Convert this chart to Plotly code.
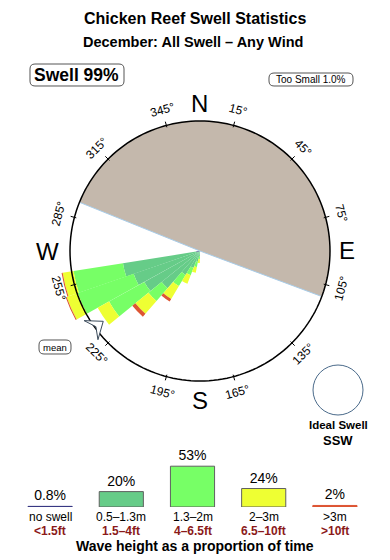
import plotly.graph_objects as go
import math

# ---------------- data ----------------
directions = [256, 246, 236, 226, 216, 206, 196, 186]   # bin centres (deg)
bin_width = 10
no_swell   = [3, 2, 0, 0, 0, 0, 0, 0]
h_05_13    = [57, 52, 49, 38, 21.5, 14, 8.5, 4]
h_13_20    = [38.5, 45.5, 31, 13, 10, 6, 4, 2.3]
h_20_30    = [8.5, 9, 10, 13, 11.5, 7, 4.6, 3]
h_30_plus  = [0.8, 0.8, 0, 3, 2.3, 0, 0, 0]

land_from, land_to = 292, 110.5        # shore sector (clockwise)
mean_dir = 234

legend_pct   = [0.8, 20, 53, 24, 2]
legend_m     = ["no swell", "0.5\u20131.3m", "1.3\u20132m", "2\u20133m", ">3m"]
legend_ft    = ["&lt;1.5ft", "1.5\u20134ft", "4\u20136.5ft", "6.5\u201310ft", ">10ft"]
tick_angles  = [15, 45, 75, 105, 135, 165, 195, 225, 255, 285, 315, 345]
compass      = ["N", "E", "S", "W"]
compass_deg  = [0, 90, 180, 270]

C_NAVY, C_DK, C_GR, C_YE, C_RD = "#333380", "#66CC88", "#77FF66", "#EEFF33", "#DD5533"
C_LAND = "#C4B8AC"
FONT = "Liberation Sans, Arial, Helvetica, sans-serif"

W, H = 390, 560
CX, CY, RPX = 200, 251, 130          # rose centre & circle radius in px
RMAX = 110                           # radial range (circle = 100)

def px(x, y):
    return x / W, 1 - y / H

fig = go.Figure()

# land sector
span = (land_to - land_from) % 360
fig.add_trace(go.Barpolar(r=[100], theta=[(land_from + span / 2) % 360], width=[span],
                          marker=dict(color=C_LAND, line=dict(width=0)),
                          showlegend=False, hoverinfo="skip"))
fig.add_trace(go.Scatterpolar(r=[100, 0, 100], theta=[land_from, 0, land_to], mode="lines",
                              line=dict(color="#A8CCE8", width=1), showlegend=False, hoverinfo="skip"))

# swell wedges (stacked)
for vals, col in [(no_swell, C_NAVY), (h_05_13, C_DK), (h_13_20, C_GR),
                  (h_20_30, C_YE), (h_30_plus, C_RD)]:
    fig.add_trace(go.Barpolar(r=vals, theta=directions, width=[bin_width] * len(directions),
                              marker=dict(color=col, line=dict(width=0)),
                              showlegend=False, hoverinfo="skip"))

# outer circle
circ_t = list(range(0, 361, 2))
fig.add_trace(go.Scatterpolar(r=[100] * len(circ_t), theta=circ_t, mode="lines",
                              line=dict(color="black", width=1.5), showlegend=False, hoverinfo="skip"))
# tick marks
for a in tick_angles:
    fig.add_trace(go.Scatterpolar(r=[98.5, 103], theta=[a, a], mode="lines",
                                  line=dict(color="black", width=1), showlegend=False, hoverinfo="skip"))

# mean arrow
fig.add_trace(go.Scatterpolar(r=[104, 92, 104, 99, 104],
                              theta=[mean_dir + 5, mean_dir, mean_dir - 5, mean_dir, mean_dir + 5],
                              mode="lines", fill="toself", fillcolor="white",
                              line=dict(color="#3A4A5A", width=1), showlegend=False, hoverinfo="skip"))

# ---------------- legend bars ----------------
fig.add_trace(go.Bar(x=list(range(5)), y=legend_pct, width=0.62,
                     marker=dict(color=[C_NAVY, C_DK, C_GR, C_YE, C_RD],
                                 line=dict(color=[C_NAVY, "#606060", "#606060", "#606060", C_RD], width=1)),
                     texttemplate="%{y}%", textposition="outside", cliponaxis=False,
                     textfont=dict(size=14, color="black", family=FONT),
                     xaxis="x", yaxis="y", showlegend=False, hoverinfo="skip"))

ann = []
for i in range(5):
    ann.append(dict(x=i, y=px(0, 517)[1], xref="x", yref="paper", text=legend_m[i], showarrow=False,
                    font=dict(size=12, color="black", family=FONT), xanchor="center", yanchor="middle"))
    ann.append(dict(x=i, y=px(0, 530.5)[1], xref="x", yref="paper", text="<b>" + legend_ft[i] + "</b>",
                    showarrow=False, font=dict(size=12, color="#8B1A1A", family=FONT),
                    xanchor="center", yanchor="middle"))

# tick labels, tangential
for a in tick_angles:
    rr = 146
    x = CX + rr * math.sin(math.radians(a))
    y = CY - rr * math.cos(math.radians(a))
    ang = ((a + 90) % 180) - 90
    xx, yy = px(x, y)
    ann.append(dict(x=xx, y=yy, xref="paper", yref="paper", text=f"{a}\u00b0", showarrow=False,
                    textangle=ang, font=dict(size=12, color="black", family=FONT),
                    xanchor="center", yanchor="middle"))

# compass letters
for lab, a, rr in zip(compass, compass_deg, [148, 147, 149, 153]):
    x = CX + rr * math.sin(math.radians(a))
    y = CY - rr * math.cos(math.radians(a))
    xx, yy = px(x, y)
    ann.append(dict(x=xx, y=yy, xref="paper", yref="paper", text=lab, showarrow=False,
                    font=dict(size=24, color="black", family=FONT),
                    xanchor="center", yanchor="middle"))

def text_at(x, y, t, size, bold=False, color="black"):
    xx, yy = px(x, y)
    ann.append(dict(x=xx, y=yy, xref="paper", yref="paper",
                    text=("<b>%s</b>" % t) if bold else t, showarrow=False,
                    font=dict(size=size, color=color, family=FONT), xanchor="center", yanchor="middle"))

text_at(195, 18, "Chicken Reef Swell Statistics", 16, True)
text_at(193, 42, "December: All Swell \u2013 Any Wind", 14.5, True)
text_at(76, 75, "Swell 99%", 17.5, True)
text_at(311, 80, "Too Small 1.0%", 10)
text_at(55, 347, "mean", 9.5)
text_at(338, 425, "Ideal Swell", 11.5, True)
text_at(338, 440, "SSW", 13, True)
text_at(195, 546, "Wave height as a proportion of time", 14, True)

def rrect(x0, y0, x1, y1, r):
    def p(x, y):
        a, b = px(x, y)
        return f"{a:.5f},{b:.5f}"
    return ("M " + p(x0 + r, y0) + " L " + p(x1 - r, y0) + " Q " + p(x1, y0) + " " + p(x1, y0 + r) +
            " L " + p(x1, y1 - r) + " Q " + p(x1, y1) + " " + p(x1 - r, y1) +
            " L " + p(x0 + r, y1) + " Q " + p(x0, y1) + " " + p(x0, y1 - r) +
            " L " + p(x0, y0 + r) + " Q " + p(x0, y0) + " " + p(x0 + r, y0) + " Z")

shapes = [
    dict(type="path", xref="paper", yref="paper", path=rrect(30, 64, 124, 86, 5),
         line=dict(color="#555555", width=1)),
    dict(type="path", xref="paper", yref="paper", path=rrect(269, 73, 353, 86, 5),
         line=dict(color="#555555", width=1)),
    dict(type="path", xref="paper", yref="paper", path=rrect(39, 340, 71, 354, 5),
         line=dict(color="#555555", width=1)),
    dict(type="circle", xref="paper", yref="paper",
         x0=px(313, 0)[0], x1=px(363, 0)[0], y0=px(0, 415)[1], y1=px(0, 365)[1],
         line=dict(color="#4A6A8A", width=1)),
]

R = RPX * RMAX / 100
fig.update_layout(
    width=W, height=H, margin=dict(l=0, r=0, t=0, b=0),
    paper_bgcolor="white", plot_bgcolor="white",
    font=dict(family=FONT),
    polar=dict(
        domain=dict(x=[(CX - R) / W, (CX + R) / W], y=[1 - (CY + R) / H, 1 - (CY - R) / H]),
        bgcolor="rgba(0,0,0,0)", barmode="stack",
        radialaxis=dict(visible=False, range=[0, RMAX]),
        angularaxis=dict(visible=False, direction="clockwise", rotation=90, showgrid=False,
                         showline=False, ticks=""),
    ),
    xaxis=dict(domain=[14.5 / W, 370.5 / W], range=[-0.5, 4.5], visible=False, fixedrange=True),
    yaxis=dict(domain=[1 - 507 / H, 1 - (507 - 60 * 0.77) / H], range=[0, 60], visible=False,
               fixedrange=True),
    annotations=ann, shapes=shapes, showlegend=False,
)

fig.write_html("out.html")
